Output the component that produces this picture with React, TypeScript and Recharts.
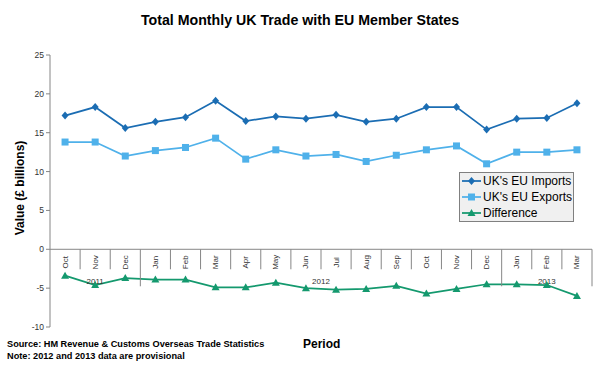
import { LineChart, Line, XAxis, YAxis, ReferenceLine, ReferenceDot, Legend } from "recharts";

const MONTHS = ["Oct", "Nov", "Dec", "Jan", "Feb", "Mar", "Apr", "May", "Jun", "Jul", "Aug", "Sep", "Oct", "Nov", "Dec", "Jan", "Feb", "Mar"];
const YEARS = ["2011", "2011", "2011", "2012", "2012", "2012", "2012", "2012", "2012", "2012", "2012", "2012", "2012", "2012", "2012", "2013", "2013", "2013"];
const IMPORTS = [17.2, 18.3, 15.6, 16.4, 17.0, 19.1, 16.5, 17.1, 16.8, 17.3, 16.4, 16.8, 18.3, 18.3, 15.4, 16.8, 16.9, 18.8];
const EXPORTS = [13.8, 13.8, 12.0, 12.7, 13.1, 14.3, 11.6, 12.8, 12.0, 12.2, 11.3, 12.1, 12.8, 13.3, 11.0, 12.5, 12.5, 12.8];
const DIFFERENCE = [-3.4, -4.6, -3.7, -3.9, -3.9, -4.9, -4.9, -4.3, -5.0, -5.2, -5.1, -4.7, -5.7, -5.1, -4.5, -4.5, -4.6, -6.0];
const Y_TICKS = [-10, -5, 0, 5, 10, 15, 20, 25];

const FONT = "Arial, 'Liberation Sans', sans-serif";
const AXIS = "#868686";
const TEXT = "#333";

const SERIES = [
  { key: "imports", name: "UK's EU Imports", color: "#1b6db3", shape: "diamond" },
  { key: "exports", name: "UK's EU Exports", color: "#4fb1ea", shape: "square" },
  { key: "difference", name: "Difference", color: "#14996e", shape: "triangle" },
];

const W = 600;
const H = 368;
const MARGIN = { top: 55, right: 8, bottom: 41, left: 0 };
const Y_WIDTH = 50;
const BAND = (W - MARGIN.left - MARGIN.right - Y_WIDTH) / MONTHS.length;

const data = MONTHS.map((m, i) => ({
  key: `${m} ${YEARS[i]}`,
  imports: IMPORTS[i],
  exports: EXPORTS[i],
  difference: DIFFERENCE[i],
}));

function Marker({ cx, cy, shape, color }: { cx: number; cy: number; shape: string; color: string }) {
  if (shape === "diamond") {
    return <path d={`M${cx},${cy - 4}L${cx + 3.5},${cy}L${cx},${cy + 4}L${cx - 3.5},${cy}Z`} fill={color} />;
  }
  if (shape === "square") {
    return <rect x={cx - 3.5} y={cy - 3.5} width={7} height={7} fill={color} />;
  }
  return <path d={`M${cx},${cy - 4}L${cx + 4},${cy + 3}L${cx - 4},${cy + 3}Z`} fill={color} />;
}

function CategoryTick({ cx, cy, i }: { cx: number; cy: number; i: number }) {
  const right = cx + BAND / 2;
  const yearEnd = i === MONTHS.length - 1 || YEARS[i + 1] !== YEARS[i];
  const groupStart = i === 0 || YEARS[i - 1] !== YEARS[i];
  const n = YEARS.filter((y) => y === YEARS[i]).length;
  return (
    <g>
      <line x1={right} x2={right} y1={cy} y2={cy + (yearEnd ? 37 : 20)} stroke={AXIS} />
      <text
        transform={`translate(${cx},${cy + 13}) rotate(-90)`}
        textAnchor="middle"
        dominantBaseline="central"
        fontSize={8}
        fontFamily={FONT}
        fill={TEXT}
      >
        {MONTHS[i]}
      </text>
      {groupStart && (
        <text
          x={cx - BAND / 2 + (n * BAND) / 2}
          y={cy + 34.5}
          textAnchor="middle"
          fontSize={8}
          fontFamily={FONT}
          fill={TEXT}
        >
          {YEARS[i]}
        </text>
      )}
    </g>
  );
}

function LegendBox() {
  return (
    <div style={{ border: "1px solid #808080", background: "#f0f0f0", fontFamily: FONT, fontSize: 12, color: "#000" }}>
      {SERIES.map((s) => (
        <div key={s.key} style={{ display: "flex", alignItems: "center", height: 16 }}>
          <svg width={23} height={12} style={{ flex: "none" }}>
            <line x1={2} x2={21} y1={6} y2={6} stroke={s.color} strokeWidth={1.75} />
            <Marker cx={11.5} cy={6} shape={s.shape} color={s.color} />
          </svg>
          <span style={{ whiteSpace: "nowrap" }}>{s.name}</span>
        </div>
      ))}
    </div>
  );
}

export default function App() {
  return (
    <div style={{ position: "relative", width: W, height: H, background: "#fff" }}>
      <style>{`body{margin:0}`}</style>
      <div
        style={{
          position: "absolute",
          top: 12,
          left: 0,
          width: W,
          textAlign: "center",
          fontFamily: FONT,
          fontSize: 14.2,
          lineHeight: "16px",
          fontWeight: "bold",
          color: "#000",
        }}
      >
        Total Monthly UK Trade with EU Member States
      </div>
      <LineChart width={W} height={H} data={data} margin={MARGIN}>
        <XAxis dataKey="key" scale="band" hide />
        <YAxis
          domain={[-10, 25]}
          ticks={Y_TICKS}
          width={Y_WIDTH}
          interval={0}
          axisLine={{ stroke: AXIS }}
          tickLine={{ stroke: AXIS }}
          tickSize={4}
          tick={{ fill: TEXT, fontSize: 8.5, fontFamily: FONT }}
          label={{
            content: (p: any) => (
              <text
                transform={`translate(20,${p.viewBox.y + p.viewBox.height / 2 - 3}) rotate(-90)`}
                textAnchor="middle"
                dominantBaseline="central"
                fontSize={12}
                fontWeight="bold"
                fontFamily={FONT}
                fill="#000"
              >
                Value (£ billions)
              </text>
            ),
          }}
        />
        <ReferenceLine y={0} stroke={AXIS} />
        {data.map((d, i) => (
          <ReferenceDot
            key={d.key}
            x={d.key}
            y={0}
            ifOverflow="visible"
            shape={(p: any) => <CategoryTick cx={p.cx} cy={p.cy} i={i} />}
          />
        ))}
        {SERIES.map((s) => (
          <Line
            key={s.key}
            dataKey={s.key}
            name={s.name}
            type="linear"
            stroke={s.color}
            strokeWidth={1.75}
            isAnimationActive={false}
            activeDot={false}
            dot={(p: any) => <Marker key={p.index} cx={p.cx} cy={p.cy} shape={s.shape} color={s.color} />}
          />
        ))}
        <Legend
          layout="horizontal"
          verticalAlign="middle"
          align="center"
          wrapperStyle={{ left: 459, top: 172, width: 115 }}
          content={() => <LegendBox />}
        />
      </LineChart>
      <div
        style={{
          position: "absolute",
          left: 7,
          top: 338,
          fontFamily: FONT,
          fontSize: 9.2,
          lineHeight: "12px",
          fontWeight: "bold",
          color: "#000",
        }}
      >
        <div>Source: HM Revenue &amp; Customs Overseas Trade Statistics</div>
        <div>Note: 2012 and 2013 data are provisional</div>
      </div>
      <div
        style={{
          position: "absolute",
          left: 303,
          top: 337,
          fontFamily: FONT,
          fontSize: 12,
          lineHeight: "14px",
          fontWeight: "bold",
          color: "#000",
        }}
      >
        Period
      </div>
    </div>
  );
}
